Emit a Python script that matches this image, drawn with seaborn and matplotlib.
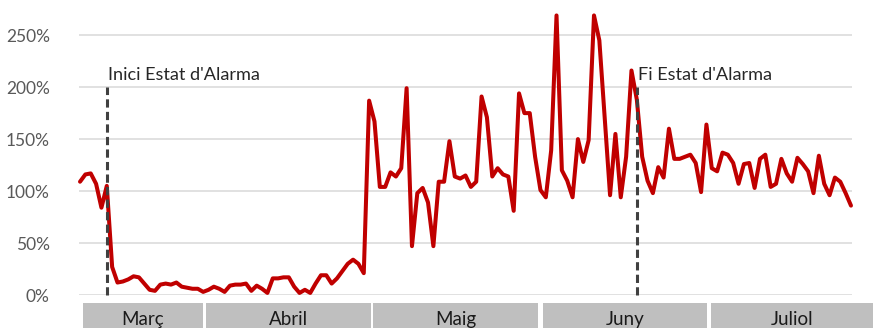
import matplotlib
matplotlib.use("Agg")
import matplotlib.pyplot as plt
import matplotlib.transforms as mtransforms
from matplotlib.patches import Rectangle
from matplotlib.ticker import FixedLocator, FuncFormatter
import numpy as np
import pandas as pd
import seaborn as sns

# Daily mobility index (% of the reference level), 9 March - 31 July 2020
start_date = "2020-03-09"
end_date = "2020-07-31"
values = [
    109, 116, 117, 107, 84, 105, 27, 12, 13, 15,
    18, 17, 11, 5, 4, 10, 11, 10, 12, 8,
    7, 6, 6, 3, 5, 8, 6, 3, 9, 10,
    10, 11, 4, 9, 6, 2, 16, 16, 17, 17,
    8, 2, 5, 2, 11, 19, 19, 11, 16, 23,
    30, 34, 30, 21, 187, 167, 104, 104, 118, 114,
    122, 199, 47, 98, 103, 89, 47, 109, 109, 148,
    114, 112, 115, 104, 109, 191, 171, 114, 122, 116,
    114, 81, 194, 175, 175, 133, 101, 94, 139, 269,
    120, 110, 94, 150, 128, 149, 269, 245, 170, 96,
    155, 94, 133, 216, 188, 133, 110, 98, 123, 113,
    160, 131, 131, 133, 135, 127, 99, 164, 122, 119,
    137, 135, 127, 107, 126, 127, 103, 131, 135, 104,
    107, 131, 117, 109, 132, 126, 119, 98, 134, 107,
    96, 113, 109, 98, 86,
]

# Key dates of the state of alarm
event_dates = ["2020-03-14", "2020-06-21"]
event_labels = ["Inici Estat d'Alarma", "Fi Estat d'Alarma"]

# Month bands under the axis
month_labels = ["Març", "Abril", "Maig", "Juny", "Juliol"]

y_ticks = [0, 50, 100, 150, 200, 250]

dates = pd.date_range(start_date, end_date, freq="D")
df = pd.DataFrame({"date": dates, "day": np.arange(len(dates)), "value": values})

sns.set_theme(style="white")
plt.rcParams["font.family"] = ["Lato", "DejaVu Sans"]

W, H = 873, 328
AX_TOP, AX_BOTTOM = 4, 295
fig = plt.figure(figsize=(W / 100, H / 100), dpi=100)
ax = fig.add_axes([79 / W, 1 - AX_BOTTOM / H, (852 - 79) / W, (AX_BOTTOM - AX_TOP) / H])

sns.lineplot(data=df, x="day", y="value", ax=ax, color="#C00000",
             linewidth=2.9, solid_joinstyle="round", clip_on=False, zorder=3)

ax.set_xlim(-0.19, len(df) - 1 + 0.19)
ax.set_ylim(0, 280)

# horizontal grid
ax.yaxis.set_major_locator(FixedLocator(y_ticks))
ax.yaxis.set_major_formatter(FuncFormatter(lambda v, _: f"{v:.0f}%"))
ax.grid(axis="y", color="#d9d9d9", linewidth=1.1)
ax.grid(axis="x", visible=False)
ax.set_axisbelow(True)
for s in ax.spines.values():
    s.set_visible(False)
ax.set_xticks([])
ax.set_xlabel("")
ax.set_ylabel("")
ax.tick_params(axis="y", length=0, pad=21, labelsize=12.5, labelcolor="#595959")

# state-of-alarm markers
for d, label in zip(event_dates, event_labels):
    xi = df.index[df["date"] == pd.Timestamp(d)][0]
    ax.plot([xi, xi], [0, 200], color="#404040", linewidth=2.2,
            dashes=(2.7, 1.4), zorder=4, clip_on=False)
    ax.text(xi + 0.3, 206.5, label, ha="left", va="baseline",
            fontsize=13.1, color="#262626", zorder=5)

# month bands below the axis (x in day units, y in axes fraction)
band_edges = [(0.6, 22.9), (23.55, 54.3), (54.8, 85.6), (86.4, 117.2), (117.9, 150.0)]
trans = mtransforms.blended_transform_factory(ax.transData, ax.transAxes)
span = AX_BOTTOM - AX_TOP
band_top = -(303 - AX_BOTTOM) / span
band_h = 40 / span
for (x0, x1), name in zip(band_edges, month_labels):
    ax.add_patch(Rectangle((x0, band_top - band_h), x1 - x0, band_h,
                           transform=trans, facecolor="#bfbfbf",
                           edgecolor="none", clip_on=False))
    xc = (x0 + min(x1, 148.2)) / 2
    ax.text(xc, -(325 - AX_BOTTOM) / span, name, transform=trans,
            ha="center", va="baseline", fontsize=13.5, color="#1a1a1a")

fig.savefig("out.png", dpi=100)
